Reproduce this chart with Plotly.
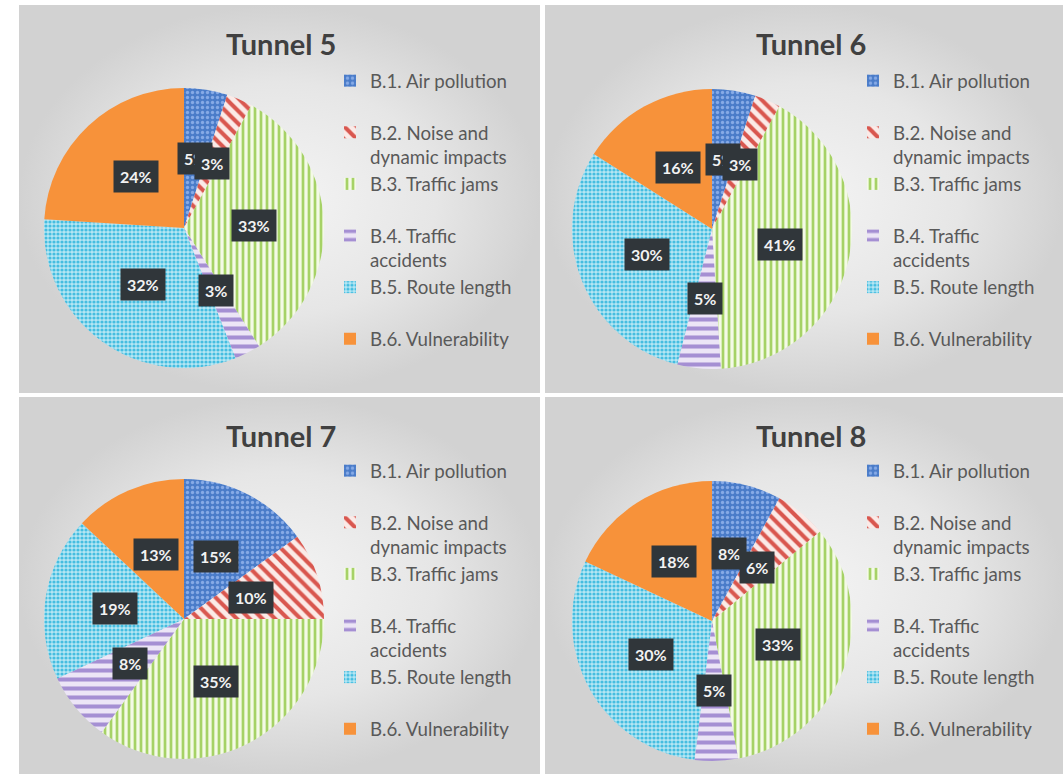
import math
import plotly.graph_objects as go

# ---------------- data ----------------
categories = ["B.1. Air pollution", "B.2. Noise and<br>dynamic impacts", "B.3. Traffic jams",
              "B.4. Traffic<br>accidents", "B.5. Route length", "B.6. Vulnerability"]
tunnels = ["Tunnel 5", "Tunnel 6", "Tunnel 7", "Tunnel 8"]
tunnel5 = [5, 3, 33, 3, 32, 24]
tunnel6 = [5, 3, 41, 5, 30, 16]
tunnel7 = [15, 10, 35, 8, 19, 13]
tunnel8 = [8, 6, 33, 5, 30, 18]
series = [tunnel5, tunnel6, tunnel7, tunnel8]

# ---------------- style ----------------
W, H = 1063, 774
FONT = "Lato"
bg_colors = ["#4A7CC9", "#FBEAE7", "#F4FAE6", "#ECE5F6", "#B6E7F4", "#F7923A"]
fg_colors = ["#86AAE6", "#D9574F", "#A6D266", "#A58FD3", "#45BDE0", "#F7923A"]
shapes = [".", "\\", "|", "-", ".", ""]
psizes = [5, 9, 6, 9, 4, 8]
solid = [0.35, 0.45, 0.45, 0.45, 0.5, 0.3]

panels = [(19, 5, 540, 393), (545, 5, 1063, 393), (19, 397, 540, 774), (545, 397, 1063, 774)]
centers = [(184, 228), (712, 229), (184, 619), (712, 621)]
R = 140
title_pos = [(281, 43), (811, 43), (281, 435), (811, 435)]
legend_pos = [(330, 62), (853, 62), (330, 452), (853, 452)]
legend_names = ["legend", "legend2", "legend3", "legend4"]

fig = go.Figure()

# panel backgrounds (radial gradient)
for (x0, y0, x1, y1) in panels:
    fig.add_trace(go.Scatter(
        x=[x0, x1, x1, x0, x0], y=[y0, y0, y1, y1, y0],
        mode="lines", fill="toself", line=dict(width=0),
        fillgradient=dict(type="radial", colorscale=[[0, "#F4F4F4"], [0.6, "#E6E6E6"], [1, "#D2D2D2"]]),
        showlegend=False, hoverinfo="skip"))

annotations = []
for k, vals in enumerate(series):
    cx, cy = centers[k]
    # each legend gets its own entries; single-line entries padded to two lines (Excel-like slots)
    pad = " " * (k + 1)
    display_labels = [c + pad if "<br>" in c else c + "<br>" + pad for c in categories]
    fig.add_trace(go.Pie(
        labels=display_labels, values=vals, sort=False, direction="clockwise", rotation=0,
        textinfo="none", hoverinfo="label+percent",
        domain=dict(x=[(cx - R) / W, (cx + R) / W], y=[1 - (cy + R) / H, 1 - (cy - R) / H]),
        marker=dict(colors=bg_colors, line=dict(width=0),
                    pattern=dict(shape=shapes, fgcolor=fg_colors, bgcolor=bg_colors,
                                 size=psizes, solidity=solid, fillmode="replace")),
        legend=legend_names[k], showlegend=True, name=tunnels[k]))

    total = sum(vals)
    cum = 0
    for v in vals:
        mid = (cum + v / 2) / total
        cum += v
        th = 2 * math.pi * mid
        px = cx + 0.5 * R * math.sin(th)
        py = cy - 0.5 * R * math.cos(th)
        annotations.append(dict(
            x=px / W, y=1 - py / H, xref="paper", yref="paper", showarrow=False,
            text="<b>%d%%</b>" % round(100 * v / total),
            font=dict(family=FONT, size=16, color="#F2F2F2"),
            bgcolor="#30363A", borderpad=6, xanchor="center", yanchor="middle"))

    tx, ty = title_pos[k]
    annotations.append(dict(
        x=tx / W, y=1 - ty / H, xref="paper", yref="paper", showarrow=False,
        text="<b>%s</b>" % tunnels[k], font=dict(family=FONT, size=29, color="#404040"),
        xanchor="center", yanchor="middle"))

layout_legends = {}
for k, name in enumerate(legend_names):
    lx, ly = legend_pos[k]
    layout_legends[name] = dict(
        x=lx / W, y=1 - ly / H, xanchor="left", yanchor="top",
        bgcolor="rgba(0,0,0,0)", font=dict(family=FONT, size=18.7, color="#595959"),
        valign="top", itemwidth=30, tracegroupgap=0, itemclick=False)

fig.update_layout(
    width=W, height=H, margin=dict(l=0, r=0, t=0, b=0),
    paper_bgcolor="white", plot_bgcolor="white",
    xaxis=dict(range=[0, W], visible=False, fixedrange=True, domain=[0, 1]),
    yaxis=dict(range=[H, 0], visible=False, fixedrange=True, domain=[0, 1]),
    annotations=annotations, **layout_legends)

fig.write_html("out.html")
